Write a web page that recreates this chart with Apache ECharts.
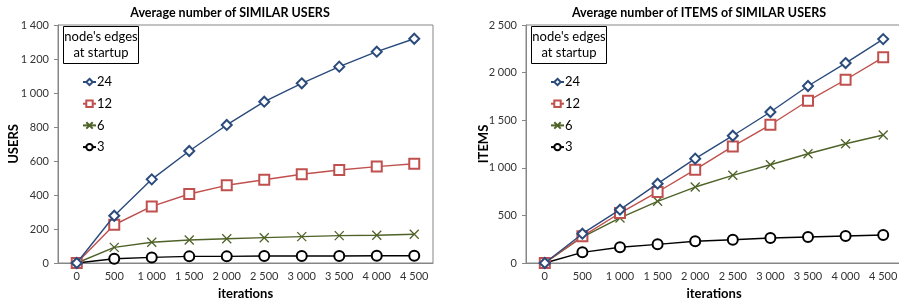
<!DOCTYPE html>
<html><head><meta charset="utf-8">
<script src="https://cdn.jsdelivr.net/npm/echarts@6/dist/echarts.min.js"></script>
<style>html,body{margin:0;padding:0;background:#fff}#c{width:899px;height:303px}</style>
</head><body><div id="c"></div>
<script>
const iterations = ['0','500','1 000','1 500','2 000','2 500','3 000','3 500','4 000','4 500'];
const seriesNames = ['24','12','6','3'];
// Average number of SIMILAR USERS
const users24 = [0, 278, 492, 659, 812, 949, 1057, 1155, 1243, 1319];
const users12 = [0, 225, 333, 406, 457, 490, 522, 547, 567, 584];
const users6  = [0, 92, 122, 135, 143, 149, 155, 161, 163, 169];
const users3  = [0, 25, 33, 39, 39, 41, 41, 41, 43, 43];
// Average number of ITEMS of SIMILAR USERS
const items24 = [0, 308, 560, 833, 1096, 1337, 1586, 1859, 2100, 2352];
const items12 = [0, 280, 525, 746, 980, 1225, 1452, 1704, 1925, 2160];
const items6  = [0, 273, 473, 648, 798, 921, 1032, 1148, 1253, 1344];
const items3  = [0, 112, 165, 196, 228, 245, 263, 273, 284, 294];
const usersTicks = [0, 200, 400, 600, 800, 1000, 1200, 1400];
const itemsTicks = [0, 500, 1000, 1500, 2000, 2500];

const FONT = 'Lato';
const colors = ['#2A4B7C', '#C0504D', '#4F6228', '#000000'];
const symbols = ['emptyDiamond', 'emptyRect', 'path://M0,0L10,10M10,0L0,10', 'emptyCircle'];
const fmt = v => String(v).replace(/\B(?=(\d{3})+(?!\d))/g, ' ');

function xAxis(gi) {
  return {
    type: 'category', gridIndex: gi, data: iterations, boundaryGap: true,
    name: 'iterations', nameLocation: 'middle', nameGap: 24,
    nameTextStyle: {fontFamily: FONT, fontWeight: 'bold', fontSize: 13, color: '#000'},
    axisLine: {lineStyle: {color: '#868686', width: 1}},
    axisTick: {interval: 0, length: 4, lineStyle: {color: '#868686'}},
    axisLabel: {interval: 0, fontFamily: FONT, fontSize: 11, color: '#333', margin: 8},
    splitLine: {show: false}
  };
}
function yAxis(gi, name, ticks, gap) {
  return {
    type: 'value', gridIndex: gi, min: ticks[0], max: ticks[ticks.length - 1],
    interval: ticks[1] - ticks[0],
    name: name, nameLocation: 'middle', nameGap: gap, nameMoveOverlap: false,
    nameTextStyle: {fontFamily: FONT, fontWeight: 'bold', fontSize: 13, color: '#000'},
    axisLine: {show: true, lineStyle: {color: '#868686', width: 1}},
    axisTick: {show: true, length: 4, lineStyle: {color: '#868686'}},
    axisLabel: {fontFamily: FONT, fontSize: 11, color: '#333', margin: 9, formatter: fmt},
    splitLine: {show: false}
  };
}
function mkSeries(gi, datas) {
  return datas.map((d, i) => ({
    name: seriesNames[i], type: 'line', xAxisIndex: gi, yAxisIndex: gi, data: d,
    symbol: symbols[i], symbolSize: i === 2 ? 9 : 10, showAllSymbol: true,
    lineStyle: {color: colors[i], width: 1.4},
    itemStyle: {color: colors[i], borderColor: colors[i], borderWidth: 1.3},
    z: 10 - i, animation: false
  }));
}
function legendBox(x, y) {
  return {
    type: 'group', left: x, top: y, children: [
      {type: 'rect', shape: {x: 0, y: 0, width: 75, height: 37},
       style: {fill: '#fff', stroke: '#000', lineWidth: 1}},
      {type: 'text', x: 37.5, y: 18.5,
       style: {text: "node's edges\nat startup", align: 'center', verticalAlign: 'middle',
               font: '13px ' + FONT, fill: '#000', lineHeight: 16}}
    ]
  };
}
function legend(left) {
  return {
    orient: 'vertical', left: left, top: 70, itemGap: 7.7, itemWidth: 13, itemHeight: 8,
    data: seriesNames, selectedMode: false,
    textStyle: {fontFamily: FONT, fontSize: 13, color: '#000', padding: [0, 0, 0, -4], lineHeight: 14}
  };
}

const chart = echarts.init(document.getElementById('c'));
chart.setOption({
  animation: false,
  title: [
    {text: 'Average number of SIMILAR USERS', left: 225, top: 1, textAlign: 'center',
     textStyle: {fontFamily: FONT, fontWeight: 'bold', fontSize: 12.5, color: '#000'}},
    {text: 'Average number of ITEMS of SIMILAR USERS', left: 694, top: 1, textAlign: 'center',
     textStyle: {fontFamily: FONT, fontWeight: 'bold', fontSize: 12.5, color: '#000'}}
  ],
  grid: [
    {left: 58, top: 25, width: 375, height: 238, show: true, borderColor: '#868686', borderWidth: 1,
     containLabel: false, outerBoundsMode: 'none'},
    {left: 526, top: 25, width: 376, height: 238, show: true, borderColor: '#868686', borderWidth: 1,
     containLabel: false, outerBoundsMode: 'none'}
  ],
  legend: [legend(77), legend(545)],
  graphic: [legendBox(63, 26), legendBox(531, 26)],
  xAxis: [xAxis(0), xAxis(1)],
  yAxis: [yAxis(0, 'USERS', usersTicks, 38), yAxis(1, 'ITEMS', itemsTicks, 36)],
  series: [].concat(mkSeries(0, [users24, users12, users6, users3]),
                    mkSeries(1, [items24, items12, items6, items3]))
});
</script></body></html>
